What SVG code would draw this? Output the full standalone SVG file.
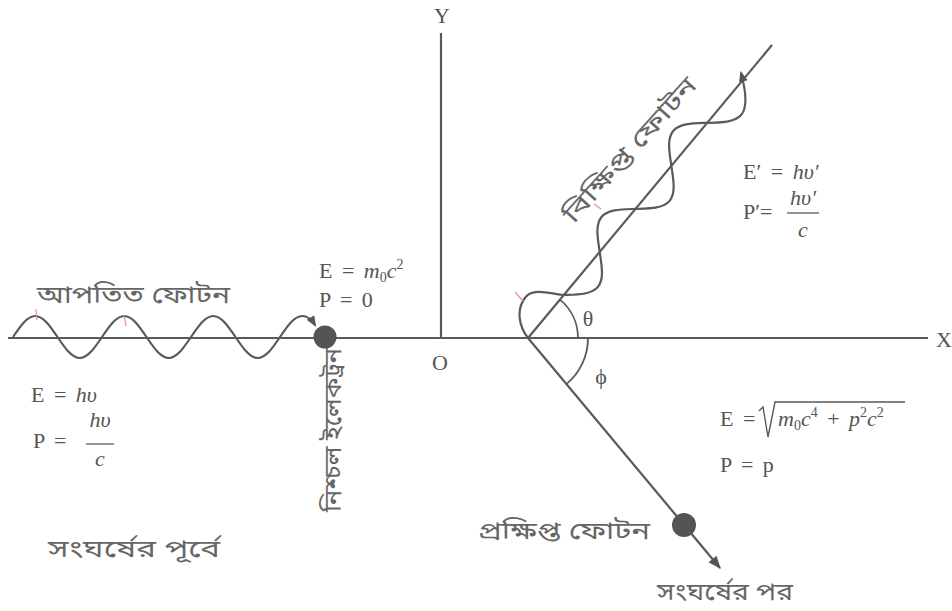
<svg xmlns="http://www.w3.org/2000/svg" width="952" height="611" viewBox="0 0 952 611">
  <style>
    .ln { stroke: #5a5a5a; stroke-width: 2.2; fill: none; }
    .wv { stroke: #5a5a5a; stroke-width: 2.2; fill: none; }
    .arc { stroke: #5a5a5a; stroke-width: 1.8; fill: none; }
    .pk { stroke: #e58aa8; stroke-width: 1.2; fill: none; }
    .m { font-family: "Liberation Serif", "DejaVu Serif", serif; font-size: 22px; fill: #555; word-spacing: 4px; }
    .i { font-style: italic; }
    .s { font-size: 14px; }
    .bn { font-family: "Noto Sans Bengali", "Noto Serif Bengali", "Lohit Bengali", "FreeSerif", "Noto Sans", sans-serif; font-size: 24px; fill: #666; }
    .dot { fill: #545454; }
  </style>
  <defs>
    <marker id="ahw" viewBox="0 0 10 10" refX="8" refY="5" markerWidth="11" markerHeight="11" markerUnits="userSpaceOnUse" orient="auto">
      <path d="M0,1 L10,5 L0,9 z" fill="#555"/>
    </marker>
    <marker id="ahe" viewBox="0 0 10 10" refX="9" refY="5" markerWidth="16" markerHeight="13" markerUnits="userSpaceOnUse" orient="auto">
      <path d="M0,1 L10,5 L0,9 z" fill="#555"/>
    </marker>
  </defs>
  <rect width="952" height="611" fill="#ffffff"/>

  <g id="connectors">
    <line id="x-axis" class="ln" x1="8" y1="338" x2="928" y2="338"/>
    <line id="y-axis" class="ln" x1="441" y1="33" x2="441" y2="338"/>
    <line id="scatter-line" class="ln" x1="528" y1="338" x2="772" y2="45"/>
    <line id="recoil-line" class="ln" x1="528" y1="338" x2="720" y2="568" marker-end="url(#ahe)"/>
    <path id="incident-wave" class="wv" marker-end="url(#ahw)" d="M13,337 C20.26,326.24 27.2,316 35.25,316 C43.3,316 50.24,326.24 57.5,337 C64.76,347.76 71.7,358 79.75,358 C87.8,358 94.74,347.76 102,337 C109.26,326.24 116.2,316 124.25,316 C132.3,316 139.24,326.24 146.5,337 C153.76,347.76 160.7,358 168.75,358 C176.8,358 183.74,347.76 191,337 C198.26,326.24 205.2,316 213.25,316 C221.3,316 228.24,326.24 235.5,337 C242.76,347.76 249.7,358 257.75,358 C265.8,358 272.74,347.76 280,337 C287.26,326.24 294.2,316 302.25,316 C308,316 312,320 315,325"/>
    <g transform="translate(528,338) rotate(-50.2)">
      <path id="scattered-wave" class="wv" marker-end="url(#ahw)" d="M0,0 C3,-14 14,-28 30,-28 C42,-28 48,-12 56,0 C65.13,10.25 73.87,21 84,21 C94.13,21 102.87,10.25 112,0 C121.13,-10.25 129.87,-21 140,-21 C150.13,-21 158.87,-10.25 168,0 C177.13,10.25 185.87,21 196,21 C206.13,21 214.87,10.25 224,0 C233.13,-10.25 241.87,-21 252,-21 C262.13,-21 270.87,-10.25 280,0 C289.13,10.25 297.87,21 308,21 C320,21 333,4 340,-6"/>
    </g>
    <path id="theta-arc" class="arc" d="M578,338 A50,50 0 0 0 560,299.6"/>
    <path id="phi-arc" class="arc" d="M588,338 A60,60 0 0 1 566.5,384.1"/>
    <g id="marks">
      <path class="pk" d="M36,309 L37,320"/>
      <path class="pk" d="M124,315 L126,326"/>
      <path class="pk" d="M515,292 L523,301"/>
      <path class="pk" d="M594,204 L601,209"/>
    </g>
  </g>

  <g id="axis-labels">
    <text class="m" x="442" y="23" text-anchor="middle">Y</text>
    <text class="m" x="440" y="370" text-anchor="middle">O</text>
    <text class="m" x="944" y="347" text-anchor="middle">X</text>
    <text class="m" x="588" y="326" text-anchor="middle">θ</text>
    <text class="m" x="601" y="384" text-anchor="middle">ϕ</text>
  </g>

  <g id="incident-photon">
    <text class="bn" x="37" y="303" textLength="193" lengthAdjust="spacingAndGlyphs">আপতিত ফোটন</text>
    <text class="m" x="31" y="402">E = <tspan class="i">hυ</tspan></text>
    <text class="m" x="33" y="448">P =</text>
    <text class="m" x="100" y="427" text-anchor="middle"><tspan class="i">hυ</tspan></text>
    <line x1="86" y1="444" x2="114" y2="444" stroke="#5a5a5a" stroke-width="1.3"/>
    <text class="m" x="100" y="466" text-anchor="middle"><tspan class="i">c</tspan></text>
    <text class="bn" x="48" y="557" textLength="172" lengthAdjust="spacingAndGlyphs">সংঘর্ষের পূর্বে</text>
  </g>

  <g id="rest-electron">
    <circle class="dot" cx="325" cy="337" r="11.5"/>
    <text class="m" x="319" y="278">E = <tspan class="i">m</tspan><tspan class="s" dy="4">0</tspan><tspan class="i" dy="-4">c</tspan><tspan class="s" dy="-9">2</tspan></text>
    <text class="m" x="319" y="307">P = 0</text>
    <text class="bn" transform="translate(341,430) rotate(-90)" x="0" y="0" text-anchor="middle" textLength="164" lengthAdjust="spacingAndGlyphs">নিশ্চল ইলেকট্রন</text>
  </g>

  <g id="scattered-photon">
    <text class="bn" transform="translate(630,150) rotate(-48)" x="0" y="8" text-anchor="middle" textLength="186" lengthAdjust="spacingAndGlyphs">বিক্ষিপ্ত ফোটন</text>
    <text class="m" x="743" y="179">E′ = <tspan class="i">hυ′</tspan></text>
    <text class="m" x="743" y="219">P′=</text>
    <text class="m" x="803" y="205" text-anchor="middle"><tspan class="i">hυ′</tspan></text>
    <line x1="787" y1="213" x2="819" y2="213" stroke="#5a5a5a" stroke-width="1.3"/>
    <text class="m" x="803" y="237" text-anchor="middle"><tspan class="i">c</tspan></text>
  </g>

  <g id="recoil-electron">
    <circle class="dot" cx="684" cy="525" r="12"/>
    <text class="m" x="720" y="426">E =</text>
    <path d="M759,411 L763,407 L768,437 L775,402 L905,402" stroke="#5a5a5a" stroke-width="1.4" fill="none"/>
    <text class="m" x="778" y="426"><tspan class="i">m</tspan><tspan class="s" dy="4">0</tspan><tspan class="i" dy="-4">c</tspan><tspan class="s" dy="-9">4</tspan><tspan dy="9"> + </tspan><tspan class="i">p</tspan><tspan class="s" dy="-9">2</tspan><tspan class="i" dy="9">c</tspan><tspan class="s" dy="-9">2</tspan></text>
    <text class="m" x="720" y="472">P = p</text>
    <text class="bn" x="478" y="539" textLength="172" lengthAdjust="spacingAndGlyphs">প্রক্ষিপ্ত ফোটন</text>
    <text class="bn" x="657" y="600" textLength="136" lengthAdjust="spacingAndGlyphs">সংঘর্ষের পর</text>
  </g>
</svg>
